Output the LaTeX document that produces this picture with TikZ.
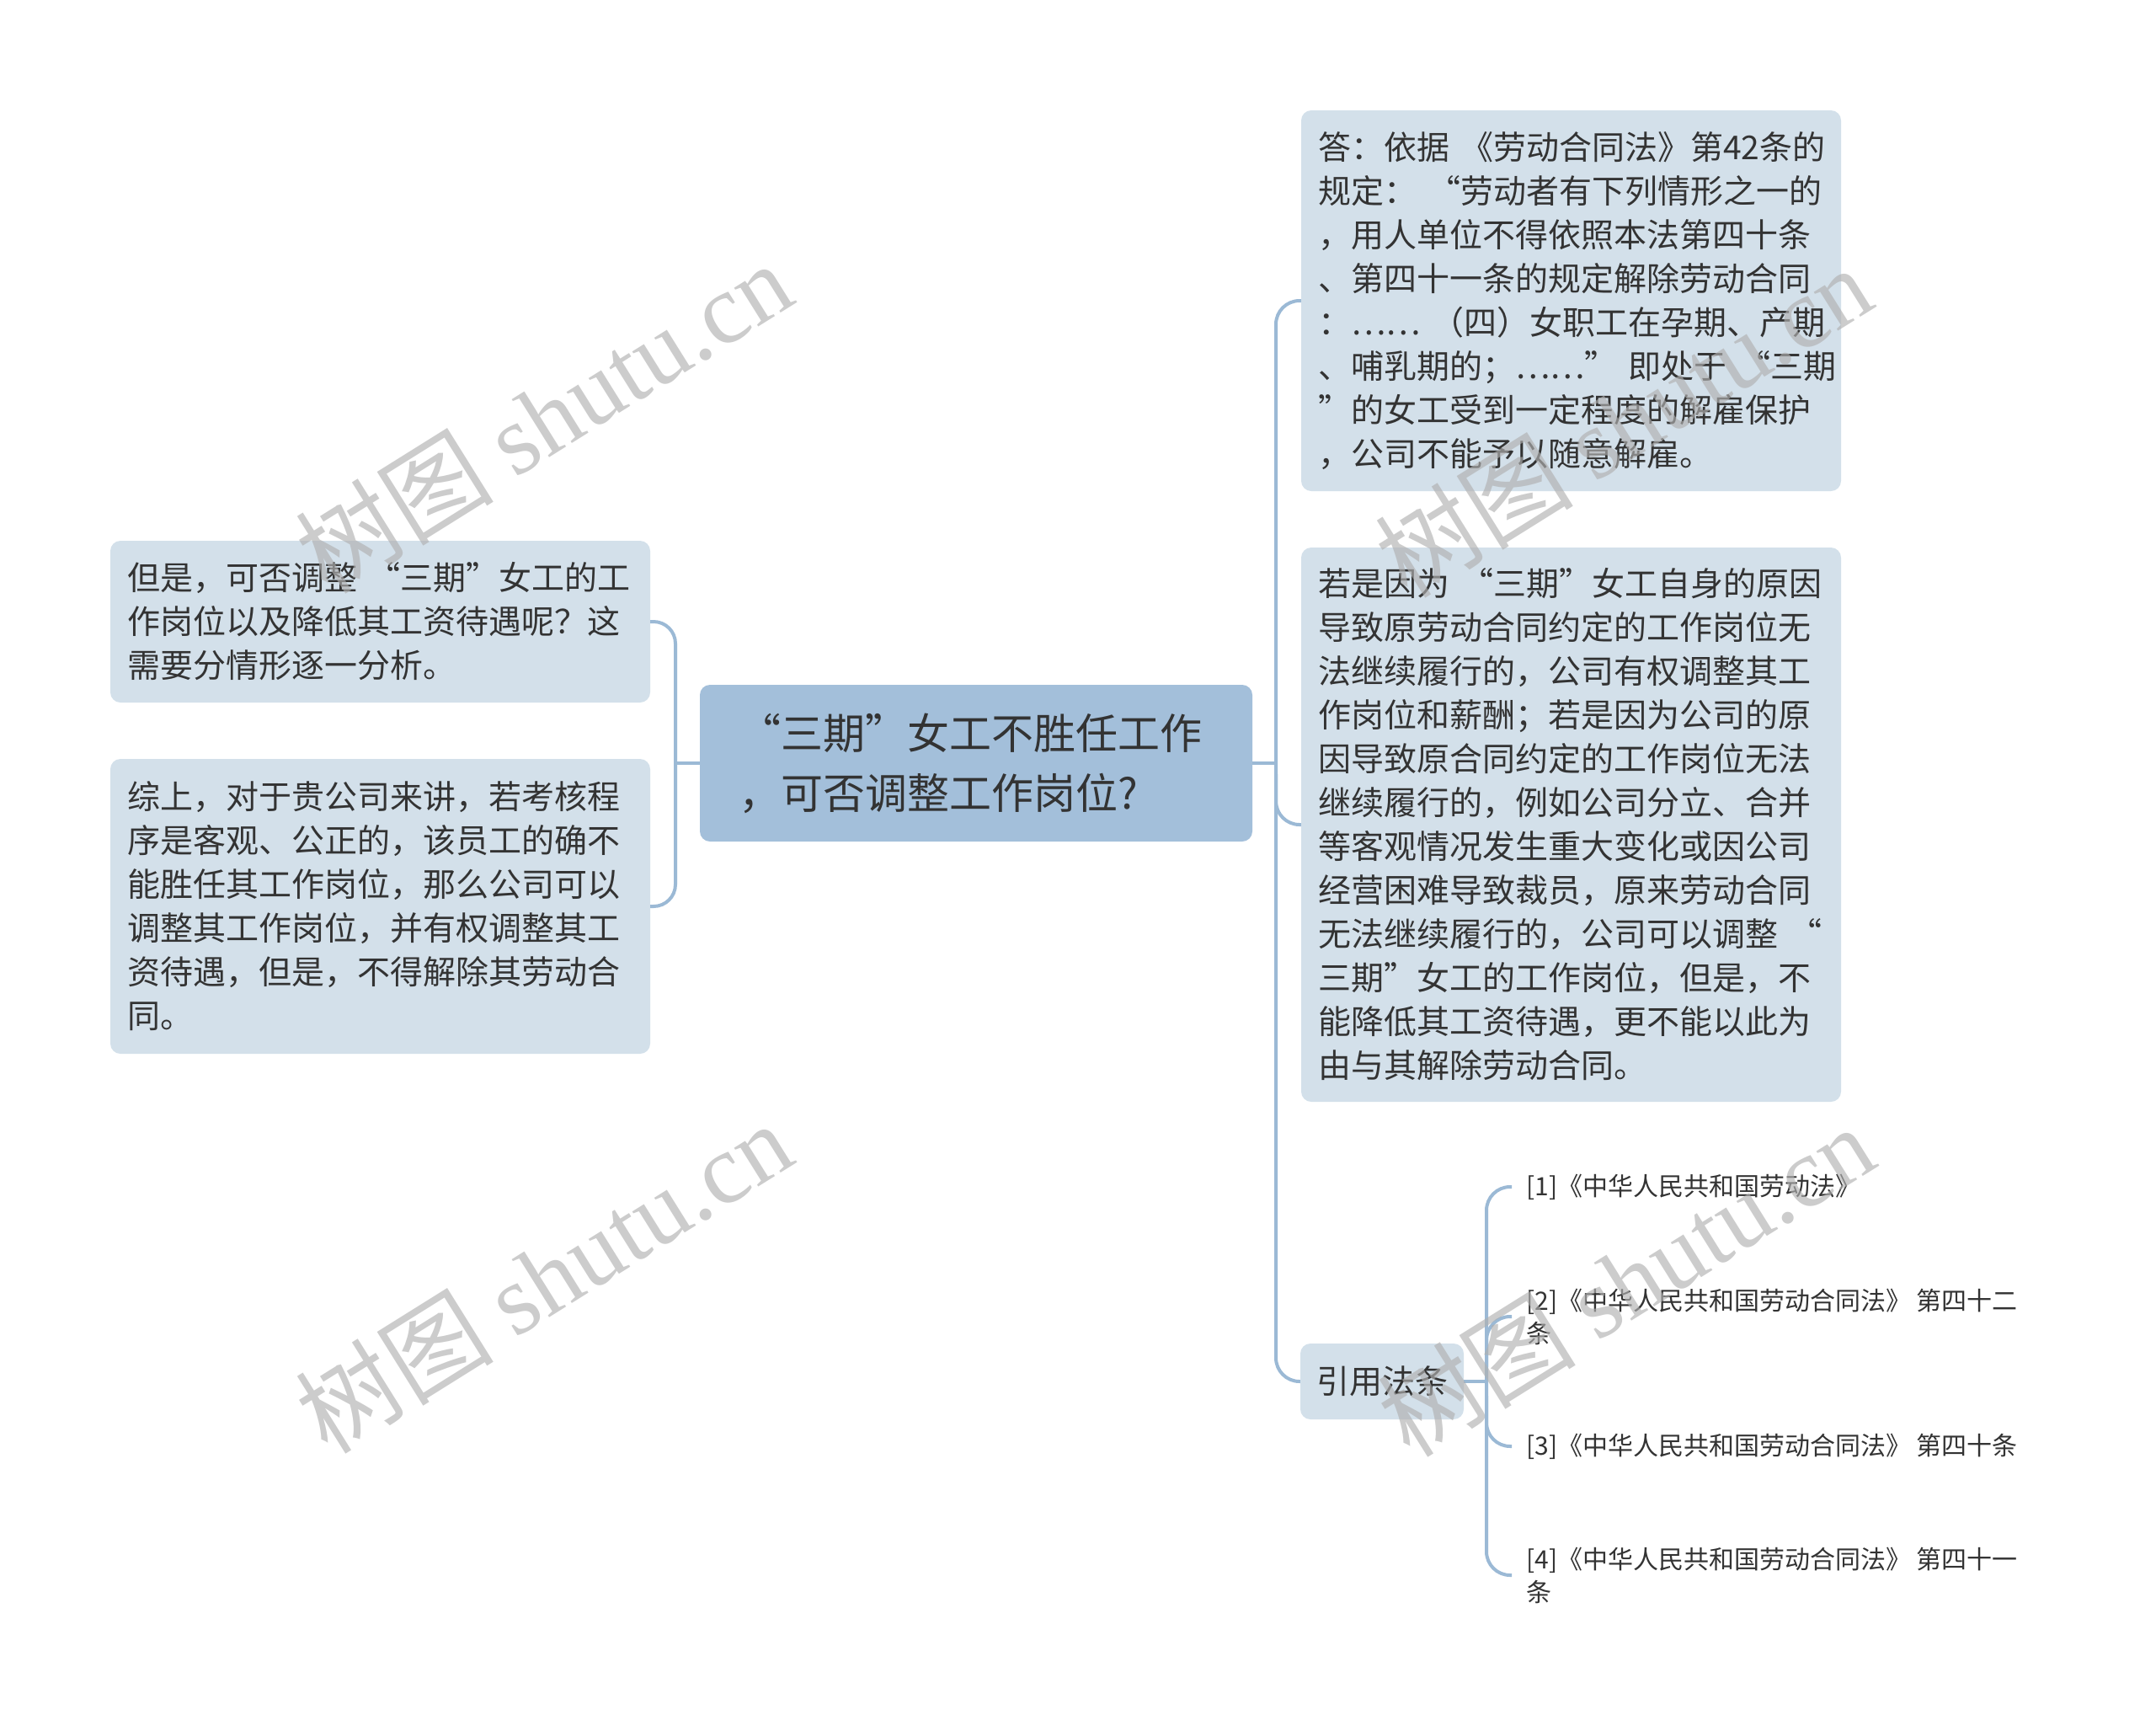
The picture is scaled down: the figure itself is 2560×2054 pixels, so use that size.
\documentclass[tikz,border=0pt]{standalone}
\usepackage{fontspec}
\setmainfont{Noto Sans CJK SC}
\newfontfamily\wmserif{Liberation Serif}
\usetikzlibrary{calc}
\definecolor{rootfill}{HTML}{A3BFDA}
\definecolor{boxfill}{HTML}{D3E0EA}
\definecolor{linec}{HTML}{9BB9D5}
\definecolor{txt}{HTML}{333333}
\definecolor{wmc}{HTML}{B0B0B0}
\begin{document}
\begin{tikzpicture}[x=1pt,y=-1pt,
  box/.style={fill=boxfill, rounded corners=12pt, inner xsep=20pt, inner ysep=0pt,
    text width=601pt, align=left, text=txt, font=\fontsize{39pt}{52pt}\selectfont},
  rootbox/.style={fill=rootfill, rounded corners=12pt, inner xsep=46pt, inner ysep=0pt,
    text width=564pt, align=left, text=txt, minimum height=186pt,
    font=\fontsize{50pt}{71pt}\selectfont},
  citebox/.style={fill=boxfill, rounded corners=12pt, inner sep=0pt, text=txt,
    minimum width=194pt, minimum height=90pt, font=\fontsize{39pt}{52pt}\selectfont},
  leaf/.style={anchor=west, inner xsep=17pt, inner ysep=2pt, align=left, text=txt,
    font=\fontsize{30pt}{39pt}\selectfont},
  conn/.style={draw=linec, line width=4pt},
  wm/.style={text=wmc, text opacity=0.65, inner sep=0pt,
    font=\fontsize{118pt}{118pt}\selectfont}
]
\useasboundingbox (0,0) rectangle (2560,2054);

% nodes
\node[rootbox] (root) at (1159,906) {“三期”女工不胜任工作\\，可否调整工作岗位?};

\node[box, minimum height=192pt] (L1) at (451.5,738) {但是，可否调整~“三期”女工的工\\作岗位以及降低其工资待遇呢？这\\需要分情形逐一分析。};
\node[box, minimum height=350pt] (L2) at (451.5,1076) {综上，对于贵公司来讲，若考核程\\序是客观、公正的，该员工的确不\\能胜任其工作岗位，那么公司可以\\调整其工作岗位，并有权调整其工\\资待遇，但是，不得解除其劳动合\\同。};

\node[box, minimum height=452pt] (R1) at (1865.5,357) {答：依据~《劳动合同法》第42条的\\规定：~“劳动者有下列情形之一的\\，用人单位不得依照本法第四十条\\、第四十一条的规定解除劳动合同\\：……~（四）女职工在孕期、产期\\、哺乳期的；……”~即处于~“三期\\”的女工受到一定程度的解雇保护\\，公司不能予以随意解雇。};
\node[box, minimum height=658pt] (R2) at (1865.5,979) {若是因为~“三期”女工自身的原因\\导致原劳动合同约定的工作岗位无\\法继续履行的，公司有权调整其工\\作岗位和薪酬；若是因为公司的原\\因导致原合同约定的工作岗位无法\\继续履行的，例如公司分立、合并\\等客观情况发生重大变化或因公司\\经营困难导致裁员，原来劳动合同\\无法继续履行的，公司可以调整~“\\三期”女工的工作岗位，但是，不\\能降低其工资待遇，更不能以此为\\由与其解除劳动合同。};
\node[citebox] (cite) at (1641,1640) {引用法条};

\node[leaf] (leaf1) at (1795,1409) {[1]《中华人民共和国劳动法》};
\node[leaf] (leaf2) at (1795,1563) {[2]《中华人民共和国劳动合同法》~第四十二\\条};
\node[leaf] (leaf3) at (1795,1717) {[3]《中华人民共和国劳动合同法》~第四十条};
\node[leaf] (leaf4) at (1795,1870) {[4]《中华人民共和国劳动合同法》~第四十一\\条};

% connectors left
\coordinate (lj) at (802,906);
\draw[conn] (root.west) -- (lj);
\draw[conn, rounded corners=26pt] (L1.east) -- (L1.east -| lj) -- (L2.east -| lj) -- (L2.east);

% connectors right
\coordinate (rj) at (1515,906);
\draw[conn] (root.east) -- (rj);
\draw[conn, rounded corners=28pt] (R1.west) -- (R1.west -| rj) -- (cite.west -| rj) -- (cite.west);
\draw[conn, rounded corners=28pt] ($(R2.west -| rj)+(0,-60)$) -- (R2.west -| rj) -- (R2.west);

% connectors citations
\coordinate (cj) at (1765,1640);
\draw[conn] (cite.east) -- (cj);
\draw[conn, rounded corners=28pt] (leaf1.west) -- (leaf1.west -| cj) -- (leaf4.west -| cj) -- (leaf4.west);
\draw[conn, rounded corners=28pt] ($(leaf2.west -| cj)+(0,60)$) -- (leaf2.west -| cj) -- (leaf2.west);
\draw[conn, rounded corners=28pt] ($(leaf3.west -| cj)+(0,-60)$) -- (leaf3.west -| cj) -- (leaf3.west);

% watermarks
\node[wm, rotate=32] (wm1) at (645,495) {树图~{\wmserif shutu.cn}};
\node[wm, rotate=32] (wm2) at (645,1516) {树图~{\wmserif shutu.cn}};
\node[wm, rotate=32] (wm3) at (1927,500) {树图~{\wmserif shutu.cn}};
\node[wm, rotate=32] (wm4) at (1930,1520) {树图~{\wmserif shutu.cn}};
\end{tikzpicture}
\end{document}
